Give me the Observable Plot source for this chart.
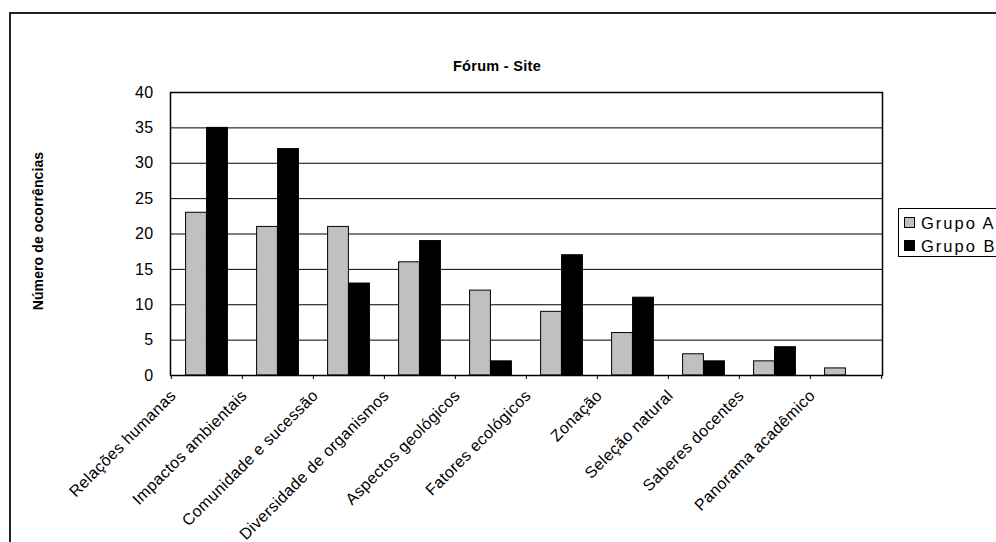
<!DOCTYPE html>
<html>
<head>
<meta charset="utf-8">
<script src="https://cdn.jsdelivr.net/npm/d3@7"></script>
<script src="https://cdn.jsdelivr.net/npm/@observablehq/plot@0.6"></script>
<style>
  html, body { margin: 0; padding: 0; background: #fff; overflow: hidden; }
  #wrap { position: relative; width: 996px; height: 542px; font-family: "Liberation Sans", Arial, sans-serif; }
  #wrap svg { position: absolute; left: 0; top: 0; }
  .frame { position: absolute; left: 9px; top: 12px; width: 1100px; height: 700px; border-left: 2px solid #222; border-top: 2px solid #222; }
  .title { position: absolute; left: 497px; top: 58px; transform: translateX(-50%); font-weight: bold; font-size: 14.5px; letter-spacing: 0.3px; white-space: nowrap; }
  .ylabel { position: absolute; left: 38px; top: 231px; transform: translate(-50%, -50%) rotate(-90deg); font-weight: bold; font-size: 14px; letter-spacing: 0.1px; white-space: nowrap; }
  .legend { position: absolute; left: 898px; top: 208px; width: 120px; height: 47px; border: 1px solid #000; background: #fff; }
  .legend .item { position: absolute; left: 5px; font-size: 16.5px; letter-spacing: 2px; white-space: nowrap; line-height: 18px; }
  .legend .sw { display: inline-block; width: 9px; height: 9px; border: 1px solid #000; margin-right: 6px; vertical-align: 1px; }
</style>
</head>
<body>
<div id="wrap">
  <div class="frame"></div>
</div>
<script>
const categories = ["Relações humanas", "Impactos ambientais", "Comunidade e sucessão", "Diversidade de organismos", "Aspectos geológicos", "Fatores ecológicos", "Zonação", "Seleção natural", "Saberes docentes", "Panorama acadêmico"];
const grupoA = [23, 21, 21, 16, 12, 9, 6, 3, 2, 1];
const grupoB = [35, 32, 13, 19, 2, 17, 11, 2, 4, 0];
const seriesNames = ["Grupo A", "Grupo B"];
const yTicks = [0, 5, 10, 15, 20, 25, 30, 35, 40];
const titleText = "Fórum - Site";
const yLabelText = "Número de ocorrências";

const W = 996, H = 542;
const mL = 170, mR = 114, mT = 92, mB = 167;
const bw = (W - mL - mR) / categories.length;
const barW = 21;

const dataA = categories.map((c, i) => ({cat: c, v: grupoA[i]}));
const dataB = categories.map((c, i) => ({cat: c, v: grupoB[i]}));

const chart = Plot.plot({
  width: W, height: H,
  marginLeft: mL, marginRight: mR, marginTop: mT, marginBottom: mB,
  style: {fontFamily: "'Liberation Sans', Arial, sans-serif", background: "transparent"},
  x: {domain: categories, padding: 0, label: null},
  y: {domain: [0, 40], label: null},
  marks: [
    Plot.ruleY(yTicks, {stroke: "#000", strokeWidth: 1}),
    Plot.barY(dataA, {x: "cat", y: "v", fill: "#c0c0c0", stroke: "#000", strokeWidth: 1, insetLeft: bw / 2 - barW, insetRight: bw / 2}),
    Plot.barY(dataB, {x: "cat", y: "v", fill: "#000", stroke: "#000", strokeWidth: 1, insetLeft: bw / 2, insetRight: bw / 2 - barW}),
    Plot.frame({stroke: "#000", strokeWidth: 1.5}),
    Plot.axisY({ticks: yTicks, tickSize: 0, tickPadding: 17, fontSize: 16, fill: "#000", label: null}),
    Plot.axisX({tickSize: 4, tickFormat: () => "", dx: -bw / 2, stroke: "#000", label: null}),
    Plot.axisX({ticks: [categories[categories.length - 1]], tickSize: 4, tickFormat: () => "", dx: bw / 2, stroke: "#000", label: null}),
    Plot.text(categories, {x: d => d, y: () => 0, rotate: -45, textAnchor: "end", lineAnchor: "top", dx: -38, dy: 13, fontSize: 16, fill: "#000"})
  ]
});
chart.querySelectorAll("text").forEach(t => t.style.letterSpacing = "0.4px");
const wrap = document.getElementById("wrap");
wrap.appendChild(chart);

const title = document.createElement("div");
title.className = "title"; title.textContent = titleText; wrap.appendChild(title);
const yl = document.createElement("div");
yl.className = "ylabel"; yl.textContent = yLabelText; wrap.appendChild(yl);

const legend = document.createElement("div");
legend.className = "legend";
const colors = ["#c0c0c0", "#000"];
seriesNames.forEach((s, i) => {
  const it = document.createElement("div");
  it.className = "item";
  it.style.top = (5 + i * 23) + "px";
  const sw = document.createElement("span");
  sw.className = "sw"; sw.style.background = colors[i];
  it.appendChild(sw);
  it.appendChild(document.createTextNode(s));
  legend.appendChild(it);
});
wrap.appendChild(legend);
</script>
</body>
</html>
